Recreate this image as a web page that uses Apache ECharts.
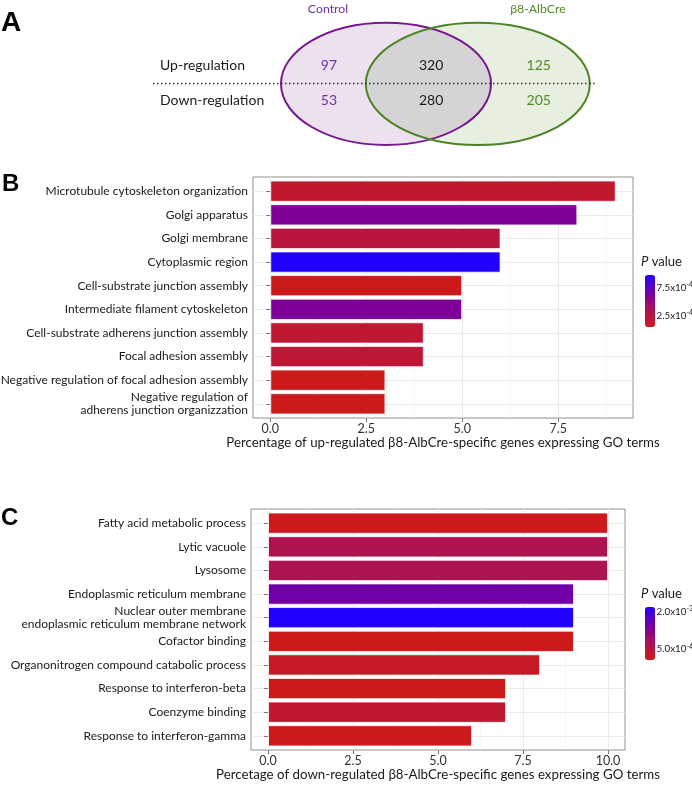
<!DOCTYPE html>
<html><head><meta charset="utf-8">
<script src="https://cdn.jsdelivr.net/npm/echarts@6/dist/echarts.min.js"></script>
<style>html,body{margin:0;padding:0;background:#fff}#c{width:692px;height:786px}</style>
</head><body><div id="c"></div>
<script>
// ---- Panel A (Venn) data ----
const vennGroups = ['Control', 'β8-AlbCre'];
const vennRows = ['Up-regulation', 'Down-regulation'];
const vennUp = [97, 320, 125];     // Control only, shared, β8-AlbCre only
const vennDown = [53, 280, 205];

// ---- Panel B data ----
const catsB = ['Microtubule cytoskeleton organization', 'Golgi apparatus', 'Golgi membrane',
  'Cytoplasmic region', 'Cell-substrate junction assembly', 'Intermediate filament cytoskeleton',
  'Cell-substrate adherens junction assembly', 'Focal adhesion assembly',
  'Negative regulation of focal adhesion assembly',
  'Negative regulation of\nadherens junction organizzation'];
const valsB = [9, 8, 6, 6, 5, 5, 4, 4, 3, 3];
const pB = [1.4e-4, 6.1e-4, 2.3e-4, 9.9e-4, 0.44e-4, 6.1e-4, 1.67e-4, 1.95e-4, 0.44e-4, 0.44e-4];
const ticksB = [0, 2.5, 5, 7.5];
const minorB = [1.25, 3.75, 6.25, 8.75];
const legendTicksB = [2.5e-4, 7.5e-4];
const legendLabelsB = [['2.5x10', '-4'], ['7.5x10', '-4']];
const titleB = 'Percentage of up-regulated β8-AlbCre-specific genes expressing GO terms';

// ---- Panel C data ----
const catsC = ['Fatty acid metabolic process', 'Lytic vacuole', 'Lysosome',
  'Endoplasmic reticulum membrane',
  'Nuclear outer membrane\nendoplasmic reticulum membrane network',
  'Cofactor binding', 'Organonitrogen compound catabolic process',
  'Response to interferon-beta', 'Coenzyme binding', 'Response to interferon-gamma'];
const valsC = [10, 10, 10, 9, 9, 9, 8, 7, 7, 6];
const pC = [0.7e-4, 7.1e-4, 7.1e-4, 1.48e-3, 2.2e-3, 0.7e-4, 1.8e-4, 0.7e-4, 3.0e-4, 0.7e-4];
const ticksC = [0, 2.5, 5, 7.5, 10];
const minorC = [1.25, 3.75, 6.25, 8.75];
const legendTicksC = [5e-4, 2e-3];
const legendLabelsC = [['5.0x10', '-4'], ['2.0x10', '-3']];
const titleC = 'Percetage of down-regulated β8-AlbCre-specific genes expressing GO terms';

const colorStops = ['#CC1A1C', '#B8163E', '#A20F64', '#7E0099', '#5500C8', '#2200FF'];

const FONT = 'Lato, "Open Sans", sans-serif';
const grids = [], xAxes = [], yAxes = [], series = [], visualMaps = [], graphics = [];

function addPanel(frame, cats, vals, ps, ticks, minor, title, lTicks, lLabels, leg) {
  const gi = grids.length;
  const vmax = Math.max(...vals);
  const ex = vmax * 0.05;
  const xmin = -ex, xmax = vmax + ex;
  const n = cats.length;
  const u = frame.height / (n + 0.2);
  // frame grid
  grids.push({left: frame.left, top: frame.top, width: frame.width, height: frame.height,
    show: true, borderColor: '#8f8f8f', borderWidth: 1, backgroundColor: '#fff',
    containLabel: false, outerBoundsMode: 'none'});
  // data grid
  grids.push({left: frame.left, top: frame.top + 0.1 * u, width: frame.width, height: n * u,
    containLabel: false, outerBoundsMode: 'none'});
  const xi = xAxes.length;
  xAxes.push({type: 'value', gridIndex: gi, min: xmin, max: xmax, z: 1,
    axisLine: {show: false},
    axisTick: {show: true, customValues: ticks, length: 4, lineStyle: {color: '#777'}},
    axisLabel: {show: true, customValues: ticks, margin: 4, color: '#333', fontFamily: FONT, fontSize: 12.5,
      formatter: v => v.toFixed(1)},
    splitLine: {show: true, customValues: ticks, lineStyle: {color: '#EBEBEB', width: 1}},
    name: title, nameLocation: 'middle', nameGap: 18,
    nameTextStyle: {color: '#1a1a1a', fontFamily: FONT, fontSize: 13.3, verticalAlign: 'top'}});
  xAxes.push({type: 'value', gridIndex: gi, min: xmin, max: xmax,
    axisLine: {show: false}, axisTick: {show: false, customValues: minor}, axisLabel: {show: false, customValues: minor},
    splitLine: {show: true, customValues: minor, lineStyle: {color: '#F3F3F3', width: 0.7}}});
  xAxes.push({type: 'value', gridIndex: gi + 1, min: xmin, max: xmax, show: false});
  const yi = yAxes.length;
  const centers = cats.map((c, i) => i + 1);
  yAxes.push({type: 'value', gridIndex: gi, min: 0.4, max: n + 0.6, inverse: true,
    axisLine: {show: false}, axisTick: {show: false, customValues: centers}, axisLabel: {show: false, customValues: centers},
    splitLine: {show: true, customValues: centers, lineStyle: {color: '#EBEBEB', width: 1}}});
  yAxes.push({type: 'category', gridIndex: gi + 1, data: cats, inverse: true,
    axisLine: {show: false},
    axisTick: {show: true, alignWithLabel: true, length: 4, lineStyle: {color: '#777'}},
    axisLabel: {interval: 0, margin: 5, color: '#1a1a1a', fontFamily: FONT, fontSize: 12, lineHeight: 12.7},
    splitLine: {show: false}});
  const si = series.length;
  series.push({type: 'bar', xAxisIndex: xi + 2, yAxisIndex: yi + 1, barWidth: '90%',
    encode: {x: 0, y: 1},
    data: vals.map((v, i) => [v, cats[i], ps[i]]),
    itemStyle: {borderColor: 'rgba(255,255,255,0.75)', borderWidth: 1},
    emphasis: {disabled: true}, silent: true});
  const pmin = Math.min(...ps), pmax = Math.max(...ps);
  visualMaps.push({type: 'continuous', seriesIndex: si, dimension: 2, min: pmin, max: pmax,
    inRange: {color: colorStops}, left: leg.left, top: leg.top, itemWidth: leg.w, itemHeight: leg.h,
    calculable: false, hoverLink: false, padding: 0, orient: 'vertical', text: null});
  // legend title
  graphics.push({type: 'text', x: leg.left - 4, y: leg.top - 20,
    style: {text: '{i|P} value', fontFamily: FONT, fontSize: 13, fill: '#1a1a1a',
      rich: {i: {fontStyle: 'italic', fontFamily: FONT, fontSize: 13, fill: '#1a1a1a'}}}});
  lTicks.forEach((p, k) => {
    const y = leg.top + leg.h * (1 - (p - pmin) / (pmax - pmin));
    graphics.push({type: 'text', x: leg.left + leg.w + 1.5, y: y,
      style: {text: lLabels[k][0] + '{s|' + lLabels[k][1] + '}', fontFamily: FONT, fontSize: 9.8, fill: '#1a1a1a',
        verticalAlign: 'middle', align: 'left',
        rich: {s: {fontSize: 7, fontFamily: FONT, fill: '#1a1a1a', verticalAlign: 'top', padding: [0, 0, 6, 0]}}}});
    graphics.push({type: 'line', shape: {x1: leg.left, y1: y, x2: leg.left + 2, y2: y}, style: {stroke: 'rgba(255,255,255,0.8)', lineWidth: 1}});
    graphics.push({type: 'line', shape: {x1: leg.left + leg.w - 2, y1: y, x2: leg.left + leg.w, y2: y}, style: {stroke: 'rgba(255,255,255,0.8)', lineWidth: 1}});
  });
}

addPanel({left: 253, top: 177, width: 380, height: 241}, catsB, valsB, pB, ticksB, minorB, titleB,
  legendTicksB, legendLabelsB, {left: 645, top: 275, w: 10, h: 52});
addPanel({left: 251, top: 509, width: 374, height: 241}, catsC, valsC, pC, ticksC, minorC, titleC,
  legendTicksC, legendLabelsC, {left: 645, top: 607, w: 10, h: 53});

// ---- Panel A: Venn ----
const PURPLE = '#76198C', GREEN = '#4C8424';
const PURPLE_T = '#7030A0', GREEN_T = '#4F8A25';
const CY = 83.8, RY = 61.1;
const ellA = {cx: 386, cy: CY, rx: 105, ry: RY};
const ellB = {cx: 477.8, cy: CY, rx: 112, ry: RY};
// lens (intersection) outline sampled from the two ellipses
const ix = (ellA.cx * ellB.rx + ellB.cx * ellA.rx) / (ellA.rx + ellB.rx);
const thA = Math.acos((ix - ellA.cx) / ellA.rx);
const thB = Math.acos((ellB.cx - ix) / ellB.rx);
const lensPts = [];
for (let k = 0; k <= 60; k++) {
  const t = -thA + 2 * thA * k / 60;
  lensPts.push([ellA.cx + ellA.rx * Math.cos(t), CY + RY * Math.sin(t)]);
}
for (let k = 0; k <= 60; k++) {
  const t = Math.PI - thB + 2 * thB * k / 60;
  lensPts.push([ellB.cx + ellB.rx * Math.cos(t), CY + RY * Math.sin(t)]);
}
graphics.push({type: 'ellipse', shape: ellA, style: {fill: '#EEE1EF'}, z: 1});
graphics.push({type: 'ellipse', shape: ellB, style: {fill: '#E7EFE1'}, z: 2});
graphics.push({type: 'polygon', shape: {points: lensPts}, style: {fill: '#D5D3D5'}, z: 2});
graphics.push({type: 'ellipse', shape: ellA, style: {fill: null, stroke: PURPLE, lineWidth: 2}, z: 3});
graphics.push({type: 'ellipse', shape: ellB, style: {fill: null, stroke: GREEN, lineWidth: 2}, z: 3});
graphics.push({type: 'line', shape: {x1: 153, y1: 83.6, x2: 596, y2: 83.6},
  style: {stroke: '#333', lineWidth: 1.5, lineDash: [1.5, 2.5]}, z: 4});
const vennFont = {fontFamily: FONT, fontSize: 14};
graphics.push({type: 'text', x: 328, y: 9, z: 5, style: Object.assign({}, vennFont, {text: vennGroups[0], fill: PURPLE_T, align: 'center', verticalAlign: 'middle', fontSize: 12.3})});
graphics.push({type: 'text', x: 538, y: 9, z: 5, style: Object.assign({}, vennFont, {text: vennGroups[1], fill: GREEN_T, align: 'center', verticalAlign: 'middle', fontSize: 12.3})});
const rowY = [65.3, 100.9];
const colX = [328.9, 431.1, 538.7];
const colColors = [PURPLE_T, '#1a1a1a', GREEN_T];
[vennUp, vennDown].forEach((row, r) => {
  graphics.push({type: 'text', x: 160, y: rowY[r], z: 5, style: Object.assign({}, vennFont, {text: vennRows[r], fill: '#1a1a1a', align: 'left', verticalAlign: 'middle'})});
  row.forEach((v, c) => {
    graphics.push({type: 'text', x: colX[c], y: rowY[r], z: 5, style: Object.assign({}, vennFont, {text: String(v), fill: colColors[c], align: 'center', verticalAlign: 'middle'})});
  });
});

// panel letters
const LET = {fontFamily: '"Liberation Sans", Arial, sans-serif', fontWeight: 'bold', fill: '#000'};
graphics.push({type: 'text', x: 1, y: 9, style: Object.assign({text: 'A', fontSize: 28}, LET)});
graphics.push({type: 'text', x: 2, y: 172, style: Object.assign({text: 'B', fontSize: 24}, LET)});
graphics.push({type: 'text', x: 1, y: 506, style: Object.assign({text: 'C', fontSize: 24}, LET)});

const chart = echarts.init(document.getElementById('c'), null, {renderer: 'canvas'});
chart.setOption({
  animation: false,
  grid: grids, xAxis: xAxes, yAxis: yAxes, series: series, visualMap: visualMaps,
  graphic: {elements: graphics}
});
</script></body></html>
